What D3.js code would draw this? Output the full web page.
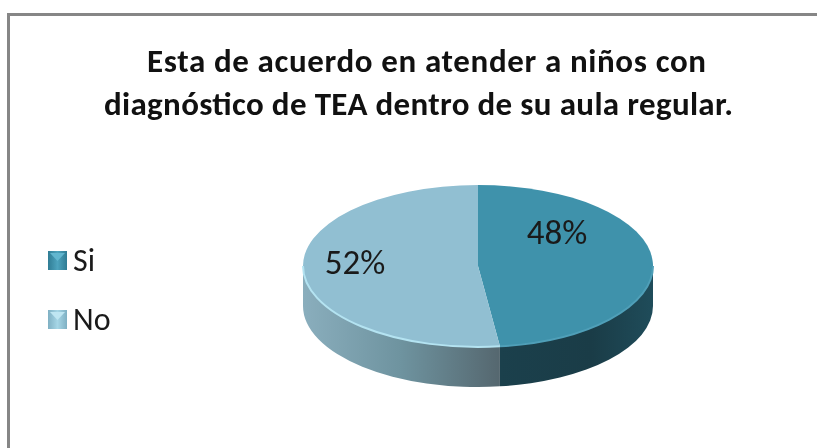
<!DOCTYPE html>
<html>
<head>
	<meta charset="utf-8">
	<title>Pie</title>
	<script src="https://cdn.jsdelivr.net/npm/d3@7"></script>
	<style>
		html, body { margin: 0; padding: 0; background: #fff; }
		svg { display: block; font-family: Carlito, "Open Sans", "Noto Sans", sans-serif; filter: blur(0.45px); }
	</style>
</head>
<body>
	<div id="chart"></div>
	<script>
		const categories = ["Si", "No"];
		const values = [48, 52];
		const labels = ["48%", "52%"];
		const titleLines = ["Esta de acuerdo en atender a niños con", "diagnóstico de TEA dentro de su aula regular."];

		const width = 817, height = 448;
		const cx = 478, cy = 266, rx = 175, ry = 81, depth = 40;

		const topColor = d3.scaleOrdinal(categories, ["#3f92ab", "#91bfd2"]);
		const wallFill = d3.scaleOrdinal(categories, ["url(#wallSi)", "url(#wallNo)"]);

		const svg = d3.select("#chart").append("svg")
			.attr("width", width)
			.attr("height", height);

		const defs = svg.append("defs");

		function gradient(id, stops) {
			const g = defs.append("linearGradient").attr("id", id);
			stops.forEach(([o, c]) => g.append("stop").attr("offset", o).attr("stop-color", c));
		}
		gradient("wallSi", [[0, "#1b404c"], [0.6, "#1a3c47"], [1, "#1f4c5a"]]);
		gradient("wallNo", [[0, "#8aaebd"], [0.5, "#6e939f"], [1, "#55676f"]]);
		gradient("keySi", [[0, "#2f7c94"], [0.5, "#4da3bd"], [1, "#2f7c94"]]);
		gradient("keyNo", [[0, "#7fb0c3"], [0.5, "#a6d6e6"], [1, "#7fb0c3"]]);

		// frame
		svg.append("path")
			.attr("d", `M8.5,${height}V14.5H${width}`)
			.attr("fill", "none")
			.attr("stroke", "#868686")
			.attr("stroke-width", 3);

		// title
		const titleX = [426.5, 418.5];
		const titleLen = [559, 629];
		svg.append("g").selectAll("text")
			.data(titleLines)
			.join("text")
			.attr("x", (d, i) => titleX[i])
			.attr("y", (d, i) => 72 + i * 43)
			.attr("text-anchor", "middle")
			.attr("font-size", 33)
			.attr("font-weight", 700)
			.attr("fill", "#111")
			.attr("textLength", (d, i) => titleLen[i])
			.text(d => d);

		// pie geometry, angles from d3.pie
		const slices = d3.pie().sort(null).value(d => d)(values)
			.map((s, i) => ({ ...s, name: categories[i], label: labels[i] }));

		const px = a => cx + rx * Math.sin(a);
		const py = a => cy - ry * Math.cos(a);

		function wallPath(a0, a1) {
			const from = Math.max(a0, Math.PI / 2), to = Math.min(a1, Math.PI * 1.5);
			if (to <= from) return null;
			return `M${px(from)},${py(from)}` +
				`A${rx},${ry} 0 0 1 ${px(to)},${py(to)}` +
				`V${py(to) + depth}` +
				`A${rx},${ry} 0 0 0 ${px(from)},${py(from) + depth}Z`;
		}

		svg.append("g").selectAll("path")
			.data(slices)
			.join("path")
			.attr("d", d => wallPath(d.startAngle, d.endAngle))
			.attr("fill", d => wallFill(d.name));

		// top face: circular arc squashed to an ellipse
		const arc = d3.arc().innerRadius(0).outerRadius(rx);
		const face = svg.append("g")
			.attr("transform", `translate(${cx},${cy}) scale(1,${ry / rx})`);
		face.selectAll("path")
			.data(slices)
			.join("path")
			.attr("d", arc)
			.attr("fill", d => topColor(d.name));

		// light bevel along the front rim of the No slice, teal one on Si
		svg.append("g").selectAll("path")
			.data(slices)
			.join("path")
			.attr("d", d => {
				const from = Math.max(d.startAngle, Math.PI / 2), to = Math.min(d.endAngle, Math.PI * 1.5);
				return `M${px(from)},${py(from)}A${rx},${ry} 0 0 1 ${px(to)},${py(to)}`;
			})
			.attr("fill", "none")
			.attr("stroke", d => d.name === "No" ? "#b4e3f1" : "#4f9fb8")
			.attr("stroke-width", 2);

		// data labels
		const labelPos = { Si: [557, 244], No: [355, 274] };
		svg.append("g").selectAll("text")
			.data(slices)
			.join("text")
			.attr("x", d => labelPos[d.name][0])
			.attr("y", d => labelPos[d.name][1])
			.attr("text-anchor", "middle")
			.attr("font-size", 35)
			.attr("fill", "#1a1a1a")
			.text(d => d.label);

		// legend
		const y = d3.scalePoint(categories, [260, 319]);
		const legend = svg.append("g").selectAll("g")
			.data(categories)
			.join("g")
			.attr("transform", d => `translate(48,${y(d)})`);
		legend.append("rect")
			.attr("y", -9)
			.attr("width", 19)
			.attr("height", 19)
			.attr("fill", d => `url(#key${d})`);
		legend.append("path")
			.attr("d", "M2,-7H17L9.5,1Z")
			.attr("fill", d => d === "Si" ? "#62b6cf" : "#bfe6f2");
		legend.append("text")
			.attr("x", 25)
			.attr("y", 11)
			.attr("font-size", 32)
			.attr("fill", "#1a1a1a")
			.text(d => d);
	</script>
</body>
</html>
